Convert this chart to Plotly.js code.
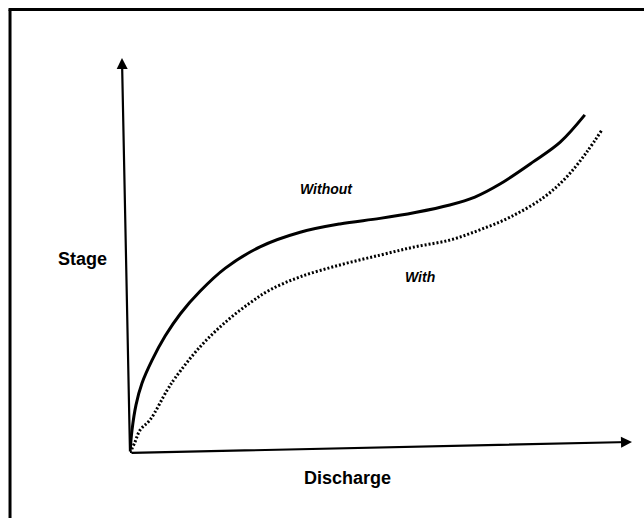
<!DOCTYPE html>
<html>
<head>
<meta charset="utf-8">
<script src="https://cdn.plot.ly/plotly-3.0.1.min.js"></script>
<style>html,body{margin:0;padding:0;background:#fff;}#chart{width:644px;height:518px;}</style>
</head>
<body>
<div id="chart"></div>
<script>
// Discharge (x) and stage (y) in arbitrary units, 0..100
var withoutDischarge = [0, 0.4, 1.2, 2.4, 4.4, 7.0, 10.0, 14.0, 19.0, 25.9, 33.9, 41.8, 49.8, 56.8, 63.7, 68.7, 73.7, 80.3, 85.7, 90.6];
var withoutStage     = [0, 5.8, 12.2, 17.7, 23.5, 29.6, 35.2, 41.0, 46.8, 52.2, 55.9, 58.0, 59.4, 60.9, 62.8, 64.8, 68.1, 73.7, 78.7, 85.6];
var withDischarge = [0, 1.0, 2.0, 4.0, 7.4, 9.0, 13.9, 18.9, 23.9, 27.9, 33.9, 41.8, 49.8, 56.8, 63.7, 69.7, 75.7, 82.3, 87.0, 91.0, 94.0];
var withStage     = [0, 2.8, 5.8, 8.4, 15.9, 19.0, 26.8, 33.0, 38.0, 41.3, 44.6, 47.6, 50.1, 52.2, 53.9, 56.5, 59.7, 64.6, 69.9, 76.2, 81.8];
var curveLabels = ["Without", "With"];
var axisLabels = ["Stage", "Discharge"];

var traces = [
  {x: withoutDischarge, y: withoutStage, mode: 'lines', line: {color: '#000', width: 3, shape: 'spline', smoothing: 1}, cliponaxis: false, hoverinfo: 'skip'},
  {x: withDischarge, y: withStage, mode: 'lines', line: {color: '#000', width: 3, dash: '2px,2px', shape: 'spline', smoothing: 1}, cliponaxis: false, hoverinfo: 'skip'}
];

var labelFont = {family: 'Liberation Sans, Arial, sans-serif', size: 14, color: '#000'};
var axisFont = {family: 'Liberation Sans, Arial, sans-serif', size: 18, color: '#000'};

var layout = {
  width: 644, height: 518,
  margin: {l: 130, r: 12, t: 58, b: 65},
  paper_bgcolor: '#fff', plot_bgcolor: '#fff',
  showlegend: false,
  xaxis: {range: [0, 100], visible: false, fixedrange: true},
  yaxis: {range: [0, 100], visible: false, fixedrange: true},
  shapes: [
    {type: 'line', xref: 'paper', yref: 'paper', x0: -0.239, y0: -0.25, x1: -0.239, y1: 1.1228, line: {color: '#000', width: 3}},
    {type: 'line', xref: 'paper', yref: 'paper', x0: -0.242, y0: 1.1228, x1: 1.05, y1: 1.1228, line: {color: '#000', width: 3}}
  ],
  annotations: [
    {x: 100, y: 2.8, ax: 0, ay: 0, xref: 'x', yref: 'y', axref: 'x', ayref: 'y', text: '', showarrow: true, arrowhead: 2, arrowsize: 1, arrowwidth: 2.2, arrowcolor: '#000', standoff: 0, startstandoff: 0},
    {x: -1.6, y: 100, ax: 0, ay: 0, xref: 'x', yref: 'y', axref: 'x', ayref: 'y', text: '', showarrow: true, arrowhead: 2, arrowsize: 1, arrowwidth: 2.2, arrowcolor: '#000', standoff: 0, startstandoff: 0},
    {x: 0.392, y: 0.668, xref: 'paper', yref: 'paper', xanchor: 'center', yanchor: 'middle', text: '<b><i>' + curveLabels[0] + '</i></b>', showarrow: false, font: labelFont},
    {x: 0.577, y: 0.446, xref: 'paper', yref: 'paper', xanchor: 'center', yanchor: 'middle', text: '<b><i>' + curveLabels[1] + '</i></b>', showarrow: false, font: labelFont},
    {x: -0.094, y: 0.491, xref: 'paper', yref: 'paper', xanchor: 'center', yanchor: 'middle', text: '<b>' + axisLabels[0] + '</b>', showarrow: false, font: axisFont},
    {x: 0.434, y: -0.063, xref: 'paper', yref: 'paper', xanchor: 'center', yanchor: 'middle', text: '<b>' + axisLabels[1] + '</b>', showarrow: false, font: axisFont}
  ]
};

Plotly.newPlot('chart', traces, layout, {staticPlot: true, displayModeBar: false});
</script>
</body>
</html>
